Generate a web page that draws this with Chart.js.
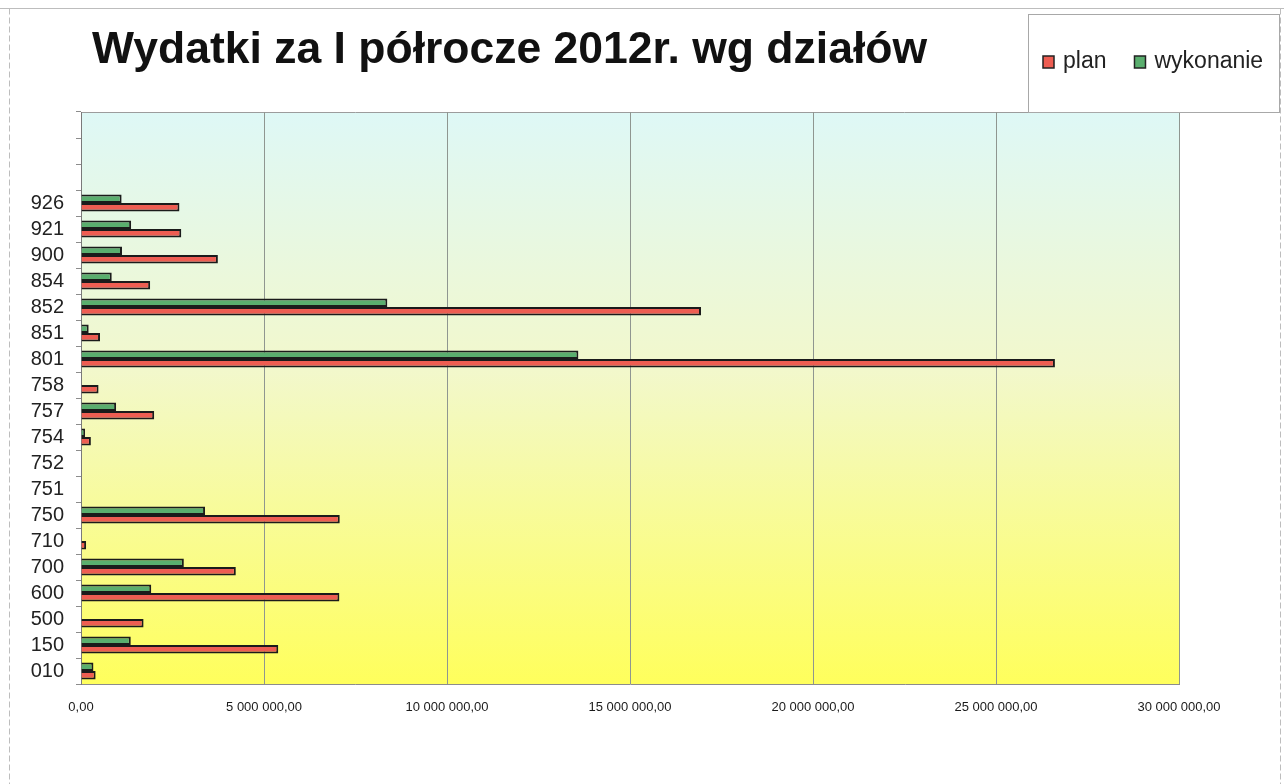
<!DOCTYPE html>
<html lang="pl">
<head>
<meta charset="utf-8">
<title>Wydatki za I półrocze 2012r. wg działów</title>
<script src="https://cdn.jsdelivr.net/npm/chart.js@4/dist/chart.umd.min.js"></script>
<style>
    html, body { margin: 0; padding: 0; background: #fff; }
    #kontener { width: 1284px; height: 784px; position: relative; }
</style>
</head>
<body>
<div id="kontener"><canvas id="wykresWydatki"></canvas></div>
<script>
// dane (kolejnosc od dolu do gory)
const dzialy = ['010', '150', '500', '600', '700', '710', '750', '751', '752', '754', '757', '758', '801', '851', '852', '854', '900', '921', '926', '', '', ''];
const plan = [400000, 5390000, 1710000, 7060000, 4230000, 140000, 7070000, 0, 0, 270000, 2000000, 480000, 26610000, 520000, 16940000, 1890000, 3740000, 2740000, 2690000, null, null, null];
const wykonanie = [340000, 1360000, 0, 1920000, 2810000, 0, 3390000, 0, 0, 110000, 960000, 0, 13590000, 210000, 8370000, 840000, 1120000, 1370000, 1110000, null, null, null];
const tytul = 'Wydatki za I półrocze 2012r. wg działów';
const osX = { min: 0, max: 30000000, krok: 5000000 };

const kolorPlan = '#ee5d52';
const kolorWykonanie = '#5aae6e';

function formatujKwote(v) {
    const [calosc, grosze] = Math.abs(v).toFixed(2).split('.');
    return calosc.replace(/\B(?=(\d{3})+(?!\d))/g, ' ') + ',' + grosze;
}

// tlo obszaru wykresu, ramka, tytul i legenda
const wystroj = {
    id: 'wystroj',
    beforeDraw(chart) {
        const { ctx, chartArea: a } = chart;
        ctx.save();
        ctx.fillStyle = '#ffffff';
        ctx.fillRect(0, 0, chart.width, chart.height);
        ctx.strokeStyle = '#bdbdbd';
        ctx.lineWidth = 1;
        ctx.setLineDash([6, 3]);
        ctx.beginPath();
        ctx.moveTo(9.5, 8.5);
        ctx.lineTo(9.5, chart.height);
        ctx.moveTo(1280.5, 8.5);
        ctx.lineTo(1280.5, chart.height);
        ctx.stroke();
        ctx.setLineDash([]);
        ctx.beginPath();
        ctx.moveTo(0, 8.5);
        ctx.lineTo(chart.width, 8.5);
        ctx.stroke();

        const g = ctx.createLinearGradient(0, a.top, 0, a.bottom);
        g.addColorStop(0, '#def8f6');
        g.addColorStop(0.45, '#f2f8cc');
        g.addColorStop(1, '#ffff5c');
        ctx.fillStyle = g;
        ctx.fillRect(a.left, a.top, a.right - a.left, a.bottom - a.top);
        ctx.strokeStyle = '#9c9c9c';
        ctx.beginPath();
        ctx.moveTo(a.left, a.top + 0.5);
        ctx.lineTo(a.right, a.top + 0.5);
        ctx.stroke();
        ctx.restore();
    },
    afterDraw(chart) {
        const ctx = chart.ctx;
        ctx.save();
        ctx.fillStyle = '#111';
        ctx.font = 'bold 44.5px "Liberation Sans", Arial, sans-serif';
        ctx.textBaseline = 'alphabetic';
        ctx.textAlign = 'left';
        ctx.fillText(tytul, 92, 63);

        // legenda w ramce
        ctx.fillStyle = '#ffffff';
        ctx.fillRect(1028.5, 14.5, 251, 98);
        ctx.strokeStyle = '#a8a8a8';
        ctx.lineWidth = 1;
        ctx.strokeRect(1028.5, 14.5, 251, 98);

        ctx.font = '23px "Liberation Sans", Arial, sans-serif';
        let x = 1043;
        chart.data.datasets.slice().reverse().forEach(ds => {
            ctx.fillStyle = ds.backgroundColor;
            ctx.fillRect(x, 56, 11, 12);
            ctx.strokeStyle = '#222';
            ctx.lineWidth = 1.5;
            ctx.strokeRect(x, 56, 11, 12);
            ctx.fillStyle = '#222';
            ctx.fillText(ds.label, x + 20, 68);
            x += 20 + ctx.measureText(ds.label).width + 28;
        });
        ctx.restore();
    }
};

document.addEventListener('DOMContentLoaded', function () {
    const ctx = document.getElementById('wykresWydatki').getContext('2d');
    new Chart(ctx, {
        type: 'bar',
        data: {
            labels: dzialy,
            datasets: [{
                label: 'wykonanie',
                data: wykonanie,
                backgroundColor: kolorWykonanie,
                borderColor: '#1b1b1b',
                borderWidth: 2
            }, {
                label: 'plan',
                data: plan,
                backgroundColor: kolorPlan,
                borderColor: '#1b1b1b',
                borderWidth: 2
            }]
        },
        options: {
            indexAxis: 'y',
            responsive: true,
            maintainAspectRatio: false,
            animation: false,
            categoryPercentage: 0.66,
            barPercentage: 1.0,
            layout: {
                padding: { left: 0, right: 105, top: 112, bottom: 60 }
            },
            plugins: {
                legend: { display: false },
                title: { display: false },
                tooltip: { enabled: false }
            },
            scales: {
                x: {
                    min: osX.min,
                    max: osX.max,
                    afterFit: scale => { scale.height = 40; },
                    ticks: {
                        stepSize: osX.krok,
                        padding: 16,
                        color: '#1a1a1a',
                        font: { family: '"Liberation Sans", Arial, sans-serif', size: 13 },
                        callback: value => formatujKwote(value)
                    },
                    grid: {
                        color: '#8f9690',
                        lineWidth: 1,
                        drawTicks: false
                    },
                    border: { color: '#8c8c8c', width: 1 }
                },
                y: {
                    reverse: true,
                    afterFit: scale => { scale.width = 81; },
                    ticks: {
                        autoSkip: false,
                        padding: 12,
                        color: '#222',
                        font: { family: '"Liberation Sans", Arial, sans-serif', size: 20 }
                    },
                    grid: {
                        drawOnChartArea: false,
                        drawTicks: true,
                        tickLength: 5,
                        color: '#8c8c8c'
                    },
                    border: { color: '#7a7a7a', width: 1 }
                }
            }
        },
        plugins: [wystroj]
    });
});
</script>
</body>
</html>
